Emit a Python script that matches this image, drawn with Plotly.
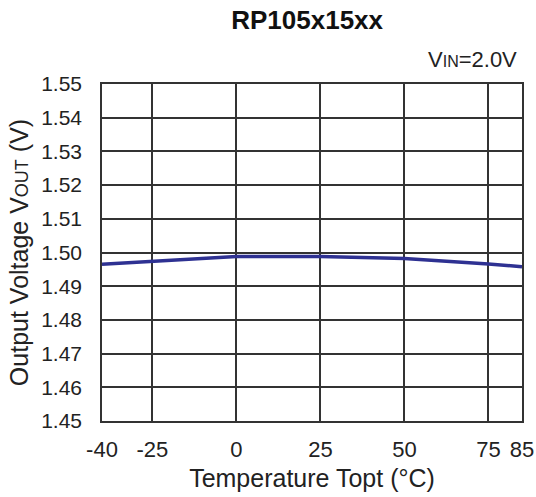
import plotly.graph_objects as go

temps = [-40, -25, 0, 25, 50, 75, 85]
vout = [1.4965, 1.4973, 1.4988, 1.4988, 1.4982, 1.4966, 1.4958]
x_ticks = [-40, -25, 0, 25, 50, 75, 85]
y_ticks = [1.45, 1.46, 1.47, 1.48, 1.49, 1.50, 1.51, 1.52, 1.53, 1.54, 1.55]

fig = go.Figure()
fig.add_trace(go.Scatter(x=temps, y=vout, mode="lines",
                         line=dict(color="#2e3192", width=3.5),
                         showlegend=False))

FAM = "Liberation Sans, Arial, sans-serif"
font = dict(family=FAM, size=21, color="#222")

fig.update_layout(
    width=536, height=497,
    margin=dict(l=102, r=14, t=84, b=76),
    paper_bgcolor="white", plot_bgcolor="white",
    font=font,
    title=dict(text="<b>RP105x15xx</b>", x=0.573, xanchor="center", y=1 - 20 / 497,
               yanchor="middle", font=dict(family=FAM, size=26, color="#111")),
    xaxis=dict(range=[-40, 85], tickvals=x_ticks, ticktext=[str(t) for t in x_ticks],
               showgrid=True, gridcolor="#333", gridwidth=1.5,
               showline=True, linecolor="#333", linewidth=1.5, mirror=True,
               zeroline=False, ticks="", ticklabelstandoff=8, automargin=False,
               tickfont=dict(size=22),
               title=dict(text="Temperature Topt (°C)", standoff=8, font=dict(size=25))),
    yaxis=dict(range=[1.45, 1.55], tickvals=y_ticks, ticktext=[f"{v:.2f}" for v in y_ticks],
               showgrid=True, gridcolor="#333", gridwidth=1.5,
               showline=True, linecolor="#333", linewidth=1.5, mirror=True,
               zeroline=False, ticks="", ticklabelstandoff=14, automargin=False,
               title=dict(text="Output Voltage V<span style='font-size:18px'>OUT</span> (V)",
                          standoff=5, font=dict(size=25))),
    annotations=[dict(text="V<span style='font-size:16px'>IN</span>=2.0V", x=1.0, y=1.0,
                      xref="paper", yref="paper", xanchor="right", yanchor="bottom",
                      xshift=-3, yshift=10, showarrow=False, font=dict(size=22))],
)

fig.write_html("out.html", config={"displayModeBar": False},
               post_script="document.body.style.margin='0';")
